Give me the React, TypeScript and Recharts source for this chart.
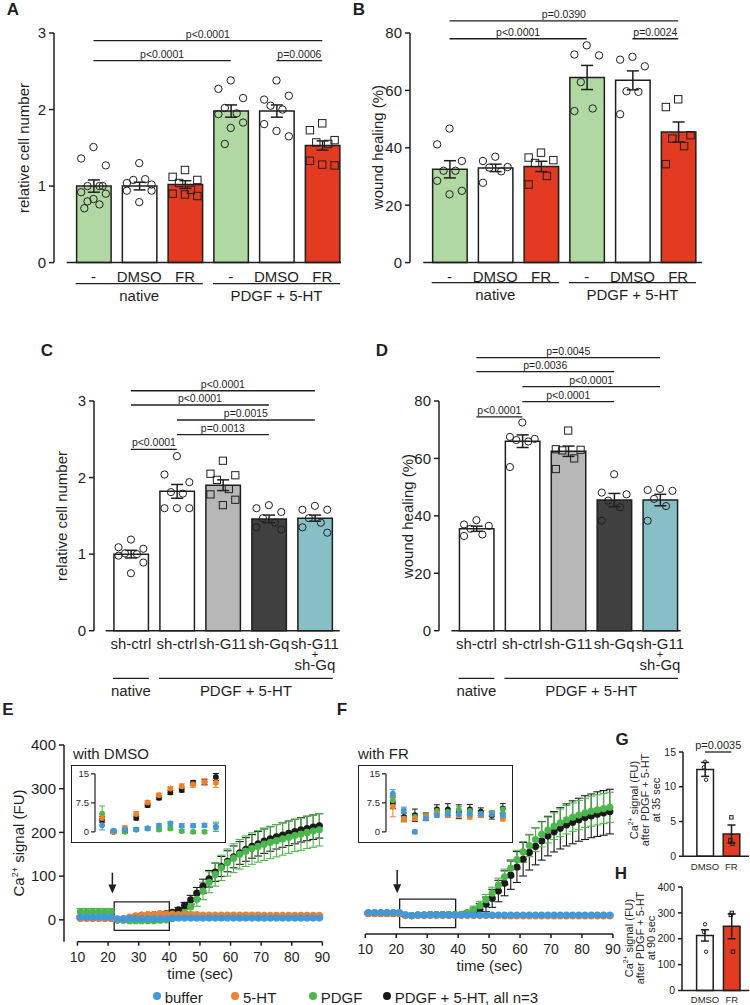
import React from 'react'
import {
  ComposedChart,
  Bar,
  Cell,
  Scatter,
  XAxis,
  YAxis,
  ErrorBar,
  ReferenceLine,
  ReferenceArea,
  ReferenceDot,
} from 'recharts'

const FONT = '"Liberation Sans", Arial, Helvetica, sans-serif'
const INK = '#1f1f1f'
const LIGHT_GREEN = '#b0d8a3'
const RED = '#e23b22'
const GREY = '#b8b7b7'
const DARK = '#404040'
const TEAL = '#86bfc5'
const BLUE = '#4398d8'
const ORANGE = '#f2802a'
const GREEN = '#4cb74a'
const BLACK = '#1a1a1a'

// ---------- panel A: relative cell number ----------
const abLabels = ['-', 'DMSO', 'FR', '-', 'DMSO', 'FR']
const abGroups = [
  { name: 'native', first: 0, last: 2 },
  { name: 'PDGF + 5-HT', first: 3, last: 5 },
]
const aMeans = [1.0, 1.0, 1.02, 1.98, 1.98, 1.53]
const aSem = [0.08, 0.05, 0.05, 0.08, 0.08, 0.06]
const aDots = [
  [1.51, 1.36, 1.27, 1.0, 1.0, 0.92, 0.9, 0.83, 0.8, 0.76, 0.71, 1.0],
  [1.3, 1.04, 1.02, 1.08, 1.09, 0.94, 0.94, 0.79],
  [1.21, 1.12, 1.08, 1.04, 0.95, 0.9, 0.87, 0.89],
  [2.38, 2.27, 2.15, 2.02, 1.95, 1.94, 1.83, 1.76, 1.55],
  [2.38, 2.13, 2.18, 2.05, 2.0, 1.81, 1.65, 1.72],
  [1.82, 1.73, 1.6, 1.57, 1.55, 1.33, 1.27, 1.28],
]
const aSig = [
  { from: 0, to: 5, p: 'p<0.0001' },
  { from: 0, to: 3, p: 'p<0.0001' },
  { from: 4, to: 5, p: 'p=0.0006' },
]

// ---------- panel B: wound healing ----------
const bMeans = [32.5, 33, 33.5, 64.5, 63.5, 45.5]
const bSem = [3.0, 1.3, 1.8, 4.2, 3.3, 3.5]
const bDots = [
  [46.7, 41.2, 35.4, 32, 32, 28.5, 25, 23.8],
  [36.9, 35.4, 33.3, 33.1, 31.8, 27.8],
  [38.3, 36.6, 35.7, 34.7, 30.2, 27.2],
  [75.7, 72.5, 72.2, 62.9, 53.7, 52.8],
  [71.7, 70.7, 68.4, 59.7, 59.5, 51.7],
  [56.9, 54.2, 44.4, 43.2, 40.6, 34.3],
]
const bSig = [
  { from: 0, to: 5, p: 'p=0.0390' },
  { from: 0, to: 3, p: 'p<0.0001' },
  { from: 4, to: 5, p: 'p=0.0024' },
]

// ---------- panels C / D: knock-down ----------
const cdLabels = ['sh-ctrl', 'sh-ctrl', 'sh-G11', 'sh-Gq', 'sh-G11\n+\nsh-Gq']
const cdGroups = [
  { name: 'native', first: 0, last: 0 },
  { name: 'PDGF + 5-HT', first: 1, last: 4 },
]
const cMeans = [1.0, 1.82, 1.9, 1.46, 1.47]
const cSem = [0.05, 0.09, 0.07, 0.05, 0.04]
const cDots = [
  [1.19, 1.09, 1.07, 1.01, 1.0, 0.98, 0.89, 0.75],
  [2.28, 2.04, 1.94, 1.81, 1.79, 1.6, 1.6, 1.6],
  [2.22, 2.05, 2.03, 1.97, 1.85, 1.78, 1.71, 1.64],
  [1.64, 1.6, 1.55, 1.47, 1.41, 1.35, 1.32],
  [1.63, 1.58, 1.58, 1.47, 1.41, 1.35, 1.28],
]
const cSig = [
  { from: 0, to: 4, p: 'p<0.0001' },
  { from: 0, to: 3, p: 'p<0.0001' },
  { from: 1, to: 4, p: 'p=0.0015' },
  { from: 1, to: 3, p: 'p=0.0013' },
  { from: 0, to: 1, p: 'p<0.0001' },
]
const dMeans = [35.5, 66, 62.5, 45.5, 45.5]
const dSem = [0.9, 2.2, 1.8, 2.3, 2.0]
const dDots = [
  [38.5, 37, 36.5, 35.5, 33.5, 33],
  [72.5, 67.5, 66.8, 66.4, 65.9, 57],
  [69.7, 63.2, 63, 62.8, 60, 56.3],
  [54.5, 48.1, 47.5, 45.3, 43, 38.3],
  [49.4, 49, 48.7, 45.9, 43.4, 38.3],
]
const dSig = [
  { from: 0, to: 4, p: 'p=0.0045' },
  { from: 0, to: 3, p: 'p=0.0036' },
  { from: 1, to: 4, p: 'p<0.0001' },
  { from: 1, to: 3, p: 'p<0.0001' },
  { from: 0, to: 1, p: 'p<0.0001' },
]

// ---------- panels E / F: Ca2+ time course ----------
const T = [11, 13, 15, 17, 19, 21, 23, 25, 27, 29, 31, 33, 35, 37, 39, 41, 43, 45, 47, 49, 51, 53, 55, 57, 59, 61, 63, 65, 67, 69, 71, 73, 75, 77, 79, 81, 83, 85, 87, 89]
const timeTicks = [10, 20, 30, 40, 50, 60, 70, 80, 90]

const eBuffer = [6, 6, 6, 6, 6, 6, 2, 2, 3, 3, 3, 3, 3, 3, 3, 4, 4, 4, 4, 4, 4, 4, 4, 4, 4, 4, 4, 4, 4, 4, 4, 4, 4, 4, 4, 4, 4, 4, 4, 4]
const eHT = [3, 3, 3, 3, 3, 3, 1, 3, 6, 9, 11, 12, 12, 13, 13, 13, 12, 12, 12, 12, 11, 11, 11, 11, 11, 11, 11, 11, 11, 11, 10, 10, 10, 10, 10, 10, 10, 10, 10, 10]
const ePDGF = [18, 18, 18, 18, 18, 18, 0, -1, -2, -2, -2, -2, -2, -1, 0, 3, 8, 16, 30, 47, 66, 86, 104, 119, 131, 141, 150, 157, 163, 168, 173, 177, 181, 185, 189, 193, 196, 200, 203, 206]
const eBoth = [5, 5, 5, 5, 5, 5, 0, 1, 4, 8, 10, 11, 12, 13, 14, 17, 23, 33, 46, 61, 77, 94, 109, 122, 134, 144, 153, 161, 168, 174, 180, 185, 190, 194, 198, 202, 206, 209, 212, 215]
const eBufferErr = [2, 2, 2, 2, 2, 2, 2, 2, 2, 2, 2, 2, 2, 2, 2, 2, 2, 2, 2, 2, 2, 2, 2, 2, 2, 2, 2, 2, 2, 2, 2, 2, 2, 2, 2, 2, 2, 2, 2, 2]
const eHTErr = [2, 2, 2, 2, 2, 2, 2, 2, 2, 2, 2, 2, 2, 2, 2, 2, 2, 2, 2, 2, 2, 2, 2, 2, 2, 2, 2, 2, 2, 2, 2, 2, 2, 2, 2, 2, 2, 2, 2, 2]
const ePDGFErr = [8, 8, 8, 8, 8, 8, 3, 3, 3, 3, 3, 3, 3, 3, 3, 3, 5, 8, 12, 16, 20, 24, 27, 29, 31, 33, 34, 35, 36, 36, 37, 37, 37, 37, 37, 37, 37, 37, 37, 37]
const eBothErr = [2, 2, 2, 2, 2, 2, 2, 2, 2, 2, 2, 2, 2, 2, 2, 3, 5, 7, 10, 13, 16, 19, 21, 23, 24, 25, 26, 27, 27, 28, 28, 28, 28, 28, 28, 28, 28, 28, 28, 28]

const fBuffer = [10, 10, 10, 10, 10, 10, 4, 3, 4, 4, 4, 4, 4, 4, 4, 4, 4, 4, 4, 4, 4, 4, 4, 4, 4, 4, 4, 4, 4, 4, 4, 4, 4, 4, 4, 4, 4, 4, 4, 4]
const fHT = [8, 8, 8, 8, 8, 8, 3, 2, 3, 3, 3, 3, 3, 3, 3, 3, 3, 3, 3, 3, 3, 3, 2, 2, 2, 2, 2, 2, 2, 2, 2, 2, 2, 2, 2, 2, 2, 2, 2, 2]
const fPDGF = [9, 9, 9, 9, 9, 9, 4, 3, 4, 4, 5, 5, 5, 5, 5, 6, 10, 17, 26, 40, 55, 74, 93, 113, 133, 151, 166, 180, 192, 202, 211, 219, 226, 232, 237, 242, 246, 249, 252, 255]
const fBoth = [8, 8, 8, 8, 8, 8, 4, 3, 4, 4, 5, 5, 5, 5, 5, 5, 7, 11, 18, 29, 43, 60, 78, 97, 116, 134, 150, 164, 177, 188, 198, 206, 214, 220, 226, 231, 235, 239, 242, 245]
const fBufferErr = [2, 2, 2, 2, 2, 2, 2, 2, 2, 2, 2, 2, 2, 2, 2, 2, 2, 2, 2, 2, 2, 2, 2, 2, 2, 2, 2, 2, 2, 2, 2, 2, 2, 2, 2, 2, 2, 2, 2, 2]
const fHTErr = [2, 2, 2, 2, 2, 2, 2, 2, 2, 2, 2, 2, 2, 2, 2, 2, 2, 2, 2, 2, 2, 2, 2, 2, 2, 2, 2, 2, 2, 2, 2, 2, 2, 2, 2, 2, 2, 2, 2, 2]
const fPDGFErr = [3, 3, 3, 3, 3, 3, 2, 2, 2, 2, 2, 2, 2, 2, 2, 3, 5, 8, 10, 12, 14, 16, 18, 20, 22, 24, 26, 28, 29, 30, 31, 32, 33, 33, 34, 34, 35, 35, 35, 35]
const fBothErr = [3, 3, 3, 3, 3, 3, 2, 2, 2, 2, 2, 2, 2, 2, 2, 3, 5, 9, 13, 17, 21, 25, 29, 33, 36, 39, 41, 43, 45, 46, 47, 48, 49, 50, 50, 51, 51, 52, 52, 52]

// insets (22-40 sec)
const IT = [23, 24.6, 26.2, 27.8, 29.4, 31, 32.6, 34.2, 35.8, 37.4, 39]
const ieBuffer = [1.7, 0.3, 0.6, 0.6, 0.9, 1.6, 2.2, 1.6, 1.6, 1.7, 1.3]
const ieHT = [3.6, 0.0, 1.0, 4.6, 7.6, 9.5, 11.2, 11.8, 12.3, 12.9, 12.7]
const iePDGF = [4.7, 0.0, 0.0, 0.6, 0.9, 0.6, 0.9, 0.2, 0.0, 0.0, 1.3]
const ieBoth = [3.2, 0.0, 0.3, 3.6, 6.9, 8.8, 10.2, 10.8, 12.7, 12.9, 14.2]
const ieBufferErr = [1.2, 0.4, 0.4, 0.4, 0.4, 0.5, 0.5, 0.5, 0.5, 0.5, 0.8]
const ieHTErr = [1.0, 0.4, 0.5, 0.6, 0.5, 0.5, 0.5, 0.6, 0.8, 0.8, 1.2]
const iePDGFErr = [2.0, 0.4, 0.4, 0.4, 0.4, 0.4, 0.4, 0.4, 0.4, 0.4, 1.2]
const ieBothErr = [0.8, 0.3, 0.4, 0.5, 0.5, 0.5, 0.5, 0.5, 0.6, 0.7, 0.9]

const ifBuffer = [9.9, 5.6, 0.0, 3.5, 4.3, 4.6, 4.6, 4.6, 4.6, 4.6, 4.3]
const ifHT = [6.5, 3.4, 3.5, 3.9, 4.7, 4.3, 4.3, 3.9, 4.3, 4.7, 3.4]
const ifPDGF = [8.2, 3.4, 3.9, 3.9, 5.4, 5.2, 5.8, 5.4, 4.7, 4.7, 5.8]
const ifBoth = [7.5, 3.9, 4.3, 3.9, 5.8, 5.8, 5.2, 5.8, 5.2, 4.3, 6.0]
const ifBufferErr = [1.0, 0.8, 0.5, 0.5, 0.5, 0.5, 0.5, 0.5, 0.5, 0.5, 0.5]
const ifHTErr = [2.6, 0.8, 0.6, 0.6, 0.6, 0.6, 0.6, 0.6, 0.6, 0.6, 0.6]
const ifPDGFErr = [1.2, 0.8, 0.8, 0.8, 0.8, 0.8, 0.8, 0.8, 0.8, 0.8, 0.8]
const ifBothErr = [1.5, 1.0, 1.6, 1.0, 1.2, 1.5, 1.8, 1.3, 1.0, 1.0, 1.3]

const legendNames = ['buffer', '5-HT', 'PDGF', 'PDGF + 5-HT, all n=3']

// ---------- panels G / H ----------
const ghLabels = ['DMSO', 'FR']
const gMeans = [12.5, 3.2]
const gSem = [1.0, 1.3]
const gDots = [
  [13.6, 12.8, 11.0],
  [5.6, 2.3, 1.8],
]
const gSig = [{ from: 0, to: 1, p: 'p=0.0035' }]
const hMeans = [213, 248]
const hSem = [22, 48]
const hDots = [
  [256, 226, 150],
  [300, 292, 150],
]

const JITTER = [0, -0.27, 0.27, -0.13, 0.13, -0.27, 0.27, 0, -0.13, 0.13, -0.2, 0.2]

function CatTick(props: any) {
  const { x, y, payload, labels, fontSize, dy } = props
  const lines = String(labels[payload.value] ?? '').split('\n')
  const offs = [0, 9.5, 21]
  return (
    <g>
      {lines.map((ln: string, i: number) => (
        <text
          key={i}
          x={x}
          y={y + dy + offs[i]}
          textAnchor="middle"
          fontSize={ln === '+' ? fontSize - 4 : fontSize}
          fill={INK}
        >
          {ln}
        </text>
      ))}
    </g>
  )
}

function BarPanel(p: any) {
  const yw = 44
  const padRight = 6
  const w = yw + (p.plot.r - p.plot.l) + padRight
  const h = p.padTop + (p.plot.b - p.plot.t) + p.xh
  const rows = p.means.map((m: number, i: number) => ({ x: i, mean: m, sem: p.sems[i] }))
  const circles: any[] = []
  const squares: any[] = []
  p.dots.forEach((vals: number[], i: number) =>
    vals.forEach((v, k) => {
      const pt = { x: i + JITTER[k % JITTER.length] * p.spread, y: v }
      if (p.markers[i] === 's') squares.push(pt)
      else circles.push(pt)
    }),
  )
  const y0 = p.yDomain[0]
  const r = p.dotR
  return (
    <div style={{ position: 'absolute', left: p.plot.l - yw, top: p.plot.t - p.padTop }}>
      <ComposedChart width={w} height={h} data={rows} margin={{ top: p.padTop, right: padRight, bottom: 0, left: 0 }}>
        <XAxis
          type="number"
          dataKey="x"
          domain={p.xDomain}
          ticks={p.labels.map((_: string, i: number) => i)}
          interval={0}
          axisLine={false}
          tickLine={false}
          tickSize={0}
          tickMargin={0}
          height={p.xh}
          tick={(tp: any) => <CatTick {...tp} labels={p.labels} fontSize={p.labelFont} dy={p.labelDy} />}
        />
        <XAxis xAxisId="dots" type="number" dataKey="x" domain={p.xDomain} hide />
        <YAxis
          type="number"
          domain={p.yDomain}
          ticks={p.yTicks}
          interval={0}
          width={yw}
          axisLine={{ stroke: INK, strokeWidth: 1.5 }}
          tickLine={{ stroke: INK, strokeWidth: 1.5 }}
          tickSize={p.tickSize}
          tickMargin={3}
          tick={{ fontSize: p.tickFont, fill: INK }}
        />
        <Bar dataKey="mean" barSize={p.barSize} stroke={INK} strokeWidth={1.5} isAnimationActive={false}>
          {rows.map((_: any, i: number) => (
            <Cell key={i} fill={p.fills[i]} />
          ))}
          <ErrorBar dataKey="sem" direction="y" width={p.capW} stroke={INK} strokeWidth={1.5} isAnimationActive={false} />
        </Bar>
        <Scatter
          xAxisId="dots"
          data={circles}
          dataKey="y"
          isAnimationActive={false}
          shape={(sp: any) => <circle cx={sp.cx} cy={sp.cy} r={r} fill="none" stroke={INK} strokeWidth={1} />}
        />
        <Scatter
          xAxisId="dots"
          data={squares}
          dataKey="y"
          isAnimationActive={false}
          shape={(sp: any) => (
            <rect x={sp.cx - r} y={sp.cy - r} width={2 * r} height={2 * r} fill="none" stroke={INK} strokeWidth={1} />
          )}
        />
        <ReferenceLine
          segment={[
            { x: p.axisStart, y: y0 },
            { x: p.xDomain[1], y: y0 },
          ]}
          stroke={INK}
          strokeWidth={1.5}
          ifOverflow="visible"
        />
        {p.sigs.map((s: any, i: number) => (
          <ReferenceLine
            key={'s' + i}
            segment={[
              { x: s.from, y: p.sigLevels[i] },
              { x: s.to, y: p.sigLevels[i] },
            ]}
            stroke={INK}
            strokeWidth={1.3}
            ifOverflow="visible"
            label={{ value: s.p, position: 'top', offset: 3, fontSize: p.sigFont, fill: INK }}
          />
        ))}
        {(p.groups || []).map((g: any, i: number) => (
          <ReferenceLine
            key={'g' + i}
            segment={[
              { x: g.first - 0.39, y: p.groupLevel },
              { x: g.last + 0.39, y: p.groupLevel },
            ]}
            stroke={INK}
            strokeWidth={1.3}
            ifOverflow="visible"
            label={{ value: g.name, position: 'bottom', offset: 7, fontSize: 15, fill: INK }}
          />
        ))}
      </ComposedChart>
    </div>
  )
}

function TimeTick(props: any) {
  const { x, y, payload } = props
  return (
    <g>
      <line x1={x} y1={y} x2={x} y2={y + 4} stroke={INK} strokeWidth={1.5} />
      <text x={x} y={y + 20} textAnchor="middle" fontSize={14} fill={INK}>
        {payload.value}
      </text>
    </g>
  )
}

function rowsOf(times: number[], vals: number[], errs: number[]) {
  return times.map((t, i) => ({ t, v: vals[i], e: errs[i] }))
}

function TimePanel(p: any) {
  const yw = 44
  const padTop = 10
  const padRight = 16
  const xh = 30
  const w = yw + (p.plot.r - p.plot.l) + padRight
  const h = padTop + (p.plot.b - p.plot.t) + xh
  const y0 = p.yDomain[0]
  return (
    <div style={{ position: 'absolute', left: p.plot.l - yw, top: p.plot.t - padTop }}>
      <ComposedChart width={w} height={h} margin={{ top: padTop, right: padRight, bottom: 0, left: p.showY ? 0 : yw }}>
        <XAxis
          type="number"
          dataKey="t"
          domain={p.xDomain}
          ticks={timeTicks}
          interval={0}
          axisLine={false}
          tickLine={false}
          tickSize={0}
          tickMargin={0}
          height={xh}
          tick={(tp: any) => <TimeTick {...tp} />}
        />
        <YAxis
          type="number"
          domain={p.yDomain}
          ticks={[0, 100, 200, 300, 400]}
          interval={0}
          hide={!p.showY}
          width={yw}
          axisLine={{ stroke: INK, strokeWidth: 1.5 }}
          tickLine={{ stroke: INK, strokeWidth: 1.5 }}
          tickSize={5}
          tickMargin={3}
          tick={{ fontSize: 15, fill: INK }}
        />
        <ReferenceLine
          segment={[
            { x: 10, y: y0 },
            { x: 90, y: y0 },
          ]}
          stroke={INK}
          strokeWidth={1.5}
          ifOverflow="visible"
        />
        <ReferenceArea x1={p.box[0]} x2={p.box[1]} y1={p.box[2]} y2={p.box[3]} fill="none" stroke={INK} strokeWidth={1.3} />
        <ReferenceLine
          segment={[
            { x: p.arrow[0], y: p.arrow[1] },
            { x: p.arrow[0], y: p.arrow[2] + 12 },
          ]}
          stroke={INK}
          strokeWidth={1.5}
        />
        <ReferenceDot
          x={p.arrow[0]}
          y={p.arrow[2]}
          r={0}
          shape={(dp: any) => (
            <path d={`M${dp.cx - 4},${dp.cy - 9} L${dp.cx + 4},${dp.cy - 9} L${dp.cx},${dp.cy} Z`} fill={INK} />
          )}
        />
        {p.series.map((s: any) => (
          <Scatter
            key={s.name}
            data={s.rows}
            dataKey="v"
            isAnimationActive={false}
            shape={(sp: any) => <circle cx={sp.cx} cy={sp.cy} r={3.6} fill={s.color} />}
          >
            <ErrorBar dataKey="e" direction="y" width={4} stroke={s.color} strokeWidth={1.1} isAnimationActive={false} />
          </Scatter>
        ))}
      </ComposedChart>
    </div>
  )
}

function InsetPanel(p: any) {
  const yw = 30
  const padTop = 6
  const y15 = 773.7
  const y0 = 831.7
  const ppu = (y0 - y15) / 15
  const dom = [-1.5, 16]
  const plotT = y15 - (dom[1] - 15) * ppu
  const plotB = y0 - dom[0] * ppu
  const plotR = p.frame.r - 3
  const w = yw + (plotR - p.axisX) + 2
  const h = padTop + (plotB - plotT)
  const f = p.frame
  return (
    <>
      <div
        style={{
          position: 'absolute',
          left: f.l,
          top: f.t,
          width: f.r - f.l,
          height: f.b - f.t,
          border: `1.5px solid ${INK}`,
          boxSizing: 'border-box',
          background: '#fff',
        }}
      />
      <div style={{ position: 'absolute', left: p.axisX - yw, top: plotT - padTop }}>
        <ComposedChart width={w} height={h} margin={{ top: padTop, right: 2, bottom: 0, left: 0 }}>
          <XAxis type="number" dataKey="t" domain={[22, 40]} hide />
          <YAxis
            type="number"
            domain={dom}
            ticks={[0, 7.5, 15]}
            interval={0}
            width={yw}
            axisLine={false}
            tickLine={{ stroke: INK, strokeWidth: 1.2 }}
            tickSize={4}
            tickMargin={2}
            tick={{ fontSize: 9.5, fill: INK }}
          />
          <ReferenceLine
            segment={[
              { x: 22, y: 0 },
              { x: 22, y: 15 },
            ]}
            stroke={INK}
            strokeWidth={1.2}
            ifOverflow="visible"
          />
          {p.series.map((s: any) => (
            <Scatter
              key={s.name}
              data={s.rows}
              dataKey="v"
              isAnimationActive={false}
              shape={(sp: any) => <circle cx={sp.cx} cy={sp.cy} r={2.9} fill={s.color} />}
            >
              <ErrorBar dataKey="e" direction="y" width={3} stroke={s.color} strokeWidth={1} isAnimationActive={false} />
            </Scatter>
          ))}
        </ComposedChart>
      </div>
    </>
  )
}

function VLabel({ x, y, size = 15, lh, children }: any) {
  return (
    <div
      style={{
        position: 'absolute',
        left: x,
        top: y,
        transform: 'translate(-50%, -50%) rotate(-90deg)',
        fontSize: size,
        lineHeight: lh ? `${lh}px` : 'normal',
        whiteSpace: 'nowrap',
        textAlign: 'center',
        color: INK,
      }}
    >
      {children}
    </div>
  )
}

function Letter({ x, y, children }: any) {
  return (
    <div
      style={{
        position: 'absolute',
        left: x,
        top: y,
        transform: 'translate(-50%, -50%)',
        fontSize: 17,
        fontWeight: 'bold',
        lineHeight: 1,
        color: INK,
      }}
    >
      {children}
    </div>
  )
}

function Text({ x, y, size = 15, children, center }: any) {
  return (
    <div
      style={{
        position: 'absolute',
        left: x,
        top: y,
        transform: center ? 'translate(-50%, -50%)' : 'translate(0, -50%)',
        fontSize: size,
        lineHeight: 1,
        whiteSpace: 'nowrap',
        color: INK,
      }}
    >
      {children}
    </div>
  )
}

const Ca = () => (
  <>
    Ca<sup style={{ fontSize: '0.6em', lineHeight: 0 }}>2+</sup>
  </>
)

export default function App() {
  const eSeries = [
    { name: 'both', color: BLACK, rows: rowsOf(T, eBoth, eBothErr) },
    { name: 'pdgf', color: GREEN, rows: rowsOf(T, ePDGF, ePDGFErr) },
    { name: 'ht', color: ORANGE, rows: rowsOf(T, eHT, eHTErr) },
    { name: 'buffer', color: BLUE, rows: rowsOf(T, eBuffer, eBufferErr) },
  ]
  const fSeries = [
    { name: 'both', color: BLACK, rows: rowsOf(T, fBoth, fBothErr) },
    { name: 'pdgf', color: GREEN, rows: rowsOf(T, fPDGF, fPDGFErr) },
    { name: 'ht', color: ORANGE, rows: rowsOf(T, fHT, fHTErr) },
    { name: 'buffer', color: BLUE, rows: rowsOf(T, fBuffer, fBufferErr) },
  ]
  const ieSeries = [
    { name: 'both', color: BLACK, rows: rowsOf(IT, ieBoth, ieBothErr) },
    { name: 'pdgf', color: GREEN, rows: rowsOf(IT, iePDGF, iePDGFErr) },
    { name: 'ht', color: ORANGE, rows: rowsOf(IT, ieHT, ieHTErr) },
    { name: 'buffer', color: BLUE, rows: rowsOf(IT, ieBuffer, ieBufferErr) },
  ]
  const ifSeries = [
    { name: 'both', color: BLACK, rows: rowsOf(IT, ifBoth, ifBothErr) },
    { name: 'pdgf', color: GREEN, rows: rowsOf(IT, ifPDGF, ifPDGFErr) },
    { name: 'ht', color: ORANGE, rows: rowsOf(IT, ifHT, ifHTErr) },
    { name: 'buffer', color: BLUE, rows: rowsOf(IT, ifBuffer, ifBufferErr) },
  ]
  const abFills = [LIGHT_GREEN, '#fff', RED, LIGHT_GREEN, '#fff', RED]
  const abMarkers = ['o', 'o', 's', 'o', 'o', 's']
  const cdFills = ['#fff', '#fff', GREY, DARK, TEAL]
  const cdMarkers = ['o', 'o', 's', 'o', 'o']
  const legendX = [156.7, 235, 312.7, 386.7]
  const legendColors = [BLUE, ORANGE, GREEN, BLACK]

  return (
    <div
      style={{
        position: 'absolute',
        left: 0,
        top: 0,
        width: 750,
        height: 1005,
        background: '#fff',
        fontFamily: FONT,
        color: INK,
        overflow: 'hidden',
      }}
    >
      <BarPanel
        plot={{ l: 54, t: 32.7, r: 341, b: 262.3 }}
        padTop={30}
        xh={45}
        xDomain={[-0.863, 5.41]}
        axisStart={-0.586}
        yDomain={[0, 3]}
        yTicks={[0, 1, 2, 3]}
        labels={abLabels}
        means={aMeans}
        sems={aSem}
        dots={aDots}
        fills={abFills}
        markers={abMarkers}
        sigs={aSig}
        sigLevels={[2.9, 2.64, 2.64]}
        groups={abGroups}
        groupLevel={-0.274}
        barSize={34.5}
        dotR={3.7}
        spread={1}
        tickFont={15}
        tickSize={5}
        labelFont={15}
        labelDy={19.5}
        sigFont={10.5}
        capW={6}
      />
      <BarPanel
        plot={{ l: 410, t: 32.7, r: 702, b: 262.3 }}
        padTop={32}
        xh={45}
        xDomain={[-0.864, 5.52]}
        axisStart={-0.573}
        yDomain={[0, 80]}
        yTicks={[0, 20, 40, 60, 80]}
        labels={abLabels}
        means={bMeans}
        sems={bSem}
        dots={bDots}
        fills={abFills}
        markers={abMarkers}
        sigs={bSig}
        sigLevels={[84.2, 78, 78]}
        groups={abGroups}
        groupLevel={-7}
        barSize={34.5}
        dotR={3.7}
        spread={1}
        tickFont={15}
        tickSize={5}
        labelFont={15}
        labelDy={19.5}
        sigFont={10.5}
        capW={6}
      />
      <BarPanel
        plot={{ l: 94.3, t: 401, r: 340, b: 630.7 }}
        padTop={40}
        xh={70}
        xDomain={[-0.803, 4.54]}
        axisStart={-0.548}
        yDomain={[0, 3]}
        yTicks={[0, 1, 2, 3]}
        labels={cdLabels}
        means={cMeans}
        sems={cSem}
        dots={cDots}
        fills={cdFills}
        markers={cdMarkers}
        sigs={cSig}
        sigLevels={[3.134, 2.948, 2.752, 2.56, 2.369]}
        groups={cdGroups}
        groupLevel={-0.622}
        barSize={34.5}
        dotR={3.6}
        spread={1}
        tickFont={15}
        tickSize={5}
        labelFont={15}
        labelDy={18.3}
        sigFont={10.5}
        capW={6}
      />
      <BarPanel
        plot={{ l: 439.3, t: 401, r: 681, b: 630.7 }}
        padTop={60}
        xh={70}
        xDomain={[-0.815, 4.45]}
        axisStart={-0.545}
        yDomain={[0, 80]}
        yTicks={[0, 20, 40, 60, 80]}
        labels={cdLabels}
        means={dMeans}
        sems={dSem}
        dots={dDots}
        fills={cdFills}
        markers={cdMarkers}
        sigs={dSig}
        sigLevels={[95.1, 90.2, 85, 79.8, 74.5]}
        groups={cdGroups}
        groupLevel={-16.6}
        barSize={34.5}
        dotR={3.6}
        spread={1}
        tickFont={15}
        tickSize={5}
        labelFont={15}
        labelDy={18.3}
        sigFont={10.5}
        capW={6}
      />

      <TimePanel
        plot={{ l: 64.3, t: 745, r: 322.7, b: 941.7 }}
        xDomain={[5.6, 90]}
        yDomain={[-50, 400]}
        showY
        series={eSeries}
        box={[22, 40, -24, 41]}
        arrow={[21.4, 108, 60]}
      />
      <TimePanel
        plot={{ l: 356.4, t: 745, r: 613.3, b: 934 }}
        xDomain={[7, 90]}
        yDomain={[-40, 400]}
        showY={false}
        series={fSeries}
        box={[21.1, 39.2, -25, 41]}
        arrow={[20.3, 109, 55]}
      />
      <InsetPanel frame={{ l: 71, t: 765, r: 226, b: 842.7 }} axisX={95} series={ieSeries} />
      <InsetPanel frame={{ l: 358, t: 765, r: 512.7, b: 842.7 }} axisX={386} series={ifSeries} />

      <BarPanel
        plot={{ l: 683, t: 751.7, r: 749, b: 856 }}
        padTop={18}
        xh={18}
        xDomain={[-0.837, 1.67]}
        axisStart={-0.837}
        yDomain={[0, 15]}
        yTicks={[0, 5, 10, 15]}
        labels={ghLabels}
        means={gMeans}
        sems={gSem}
        dots={gDots}
        fills={['#fff', RED]}
        markers={['o', 's']}
        sigs={gSig}
        sigLevels={[15]}
        barSize={16.6}
        dotR={1.7}
        spread={0.15}
        tickFont={10.5}
        tickSize={4}
        labelFont={9.5}
        labelDy={13.3}
        sigFont={11}
        capW={4}
      />
      <BarPanel
        plot={{ l: 681.7, t: 887, r: 749, b: 990.5 }}
        padTop={8}
        xh={14}
        xDomain={[-0.858, 1.65]}
        axisStart={-0.858}
        yDomain={[0, 400]}
        yTicks={[0, 100, 200, 300, 400]}
        labels={ghLabels}
        means={hMeans}
        sems={hSem}
        dots={hDots}
        fills={['#fff', RED]}
        markers={['o', 's']}
        sigs={[]}
        sigLevels={[]}
        barSize={16.6}
        dotR={1.7}
        spread={0.15}
        tickFont={10.5}
        tickSize={4}
        labelFont={9.5}
        labelDy={12.8}
        sigFont={11}
        capW={4}
      />

      {/* axis titles */}
      <VLabel x={22.7} y={148}>relative cell number</VLabel>
      <VLabel x={377} y={147}>wound healing (%)</VLabel>
      <VLabel x={61} y={516}>relative cell number</VLabel>
      <VLabel x={407} y={516}>wound healing (%)</VLabel>
      <VLabel x={18} y={843}>
        <Ca /> signal (FU)
      </VLabel>
      <VLabel x={645} y={800} size={11} lh={11}>
        <div>
          <Ca /> signal (FU)
        </div>
        <div>after PDGF + 5-HT</div>
        <div>at 35 sec</div>
      </VLabel>
      <VLabel x={640} y={938} size={11} lh={11}>
        <div>
          <Ca /> signal (FU)
        </div>
        <div>after PDGF + 5-HT</div>
        <div>at 90 sec</div>
      </VLabel>

      <Text x={73} y={753}>with DMSO</Text>
      <Text x={358} y={753}>with FR</Text>
      <Text x={200.2} y={973.3} center>
        time (sec)
      </Text>
      <Text x={489.5} y={965} center>
        time (sec)
      </Text>

      {legendNames.map((n, i) => (
        <React.Fragment key={n}>
          <div
            style={{
              position: 'absolute',
              left: legendX[i] - 4,
              top: 996 - 4,
              width: 8,
              height: 8,
              borderRadius: 4,
              background: legendColors[i],
            }}
          />
          <Text x={legendX[i] + 8} y={996.5}>
            {n}
          </Text>
        </React.Fragment>
      ))}

      <Letter x={13} y={9}>A</Letter>
      <Letter x={359} y={9}>B</Letter>
      <Letter x={47} y={350}>C</Letter>
      <Letter x={382} y={350}>D</Letter>
      <Letter x={8} y={709}>E</Letter>
      <Letter x={342} y={709}>F</Letter>
      <Letter x={622} y={739}>G</Letter>
      <Letter x={621} y={873}>H</Letter>
    </div>
  )
}
